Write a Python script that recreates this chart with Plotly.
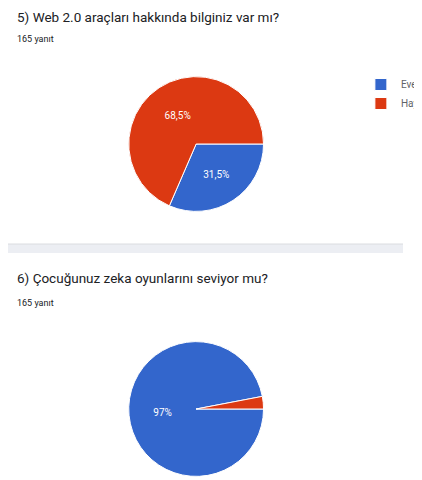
import plotly.graph_objects as go

labels = ["Evet", "Hayır"]
q1_values = [31.5, 68.5]
q2_values = [97, 3]
colors = ["#3366cc", "#dc3912"]
W, H = 422, 480

def py(p):
    return 1 - p / H

fig = go.Figure()
fig.add_trace(go.Pie(labels=labels, values=q1_values, sort=False, direction="clockwise", rotation=90,
                     marker=dict(colors=colors, line=dict(color="white", width=1)),
                     texttemplate="%{value}%", textposition="inside", insidetextfont=dict(color="white", size=10),
                     domain=dict(x=[129/W, 273/W], y=[py(208), py(64)]), legend="legend",
                     hoverinfo="label+percent"))
fig.add_trace(go.Pie(labels=labels, values=q2_values, sort=False, direction="clockwise", rotation=90,
                     marker=dict(colors=colors, line=dict(color="white", width=1)),
                     texttemplate=["%{value}%", ""], textposition="inside", insidetextfont=dict(color="white", size=10),
                     domain=dict(x=[129/W, 273/W], y=[py(473), py(329)]), legend="legend2",
                     hoverinfo="label+percent"))

font = dict(family="Roboto, Arial", color="#202124")
fig.update_layout(
    width=W, height=H, margin=dict(l=0, r=0, t=0, b=0),
    paper_bgcolor="white", font=font, separators=",.",
    legend=dict(x=377/W, y=py(62), xanchor="left", yanchor="top", font=dict(size=10, color="#5f6368"), itemwidth=30),
    legend2=dict(x=377/W, y=py(325), xanchor="left", yanchor="top", font=dict(size=10, color="#5f6368"), itemwidth=30),
    shapes=[dict(type="rect", xref="paper", yref="paper", x0=0, x1=1, y0=py(245), y1=py(236),
                 fillcolor="#eceef3", line=dict(width=0), layer="below"),
            dict(type="line", xref="paper", yref="paper", x0=0, x1=1, y0=py(236), y1=py(236),
                 line=dict(color="#dadce0", width=1))],
    annotations=[
        dict(text="5) Web 2.0 araçları hakkında bilginiz var mı?", x=8/W, y=py(9), xref="paper", yref="paper",
             xanchor="left", yanchor="middle", showarrow=False, font=dict(size=13.5, color="#202124")),
        dict(text="165 yanıt", x=8/W, y=py(31), xref="paper", yref="paper",
             xanchor="left", yanchor="middle", showarrow=False, font=dict(size=9, color="#202124")),
        dict(text="6) Çocuğunuz zeka oyunlarını seviyor mu?", x=8/W, y=py(270), xref="paper", yref="paper",
             xanchor="left", yanchor="middle", showarrow=False, font=dict(size=13.5, color="#202124")),
        dict(text="165 yanıt", x=8/W, y=py(295), xref="paper", yref="paper",
             xanchor="left", yanchor="middle", showarrow=False, font=dict(size=9, color="#202124")),
    ],
)
fig.write_html("out.html")
